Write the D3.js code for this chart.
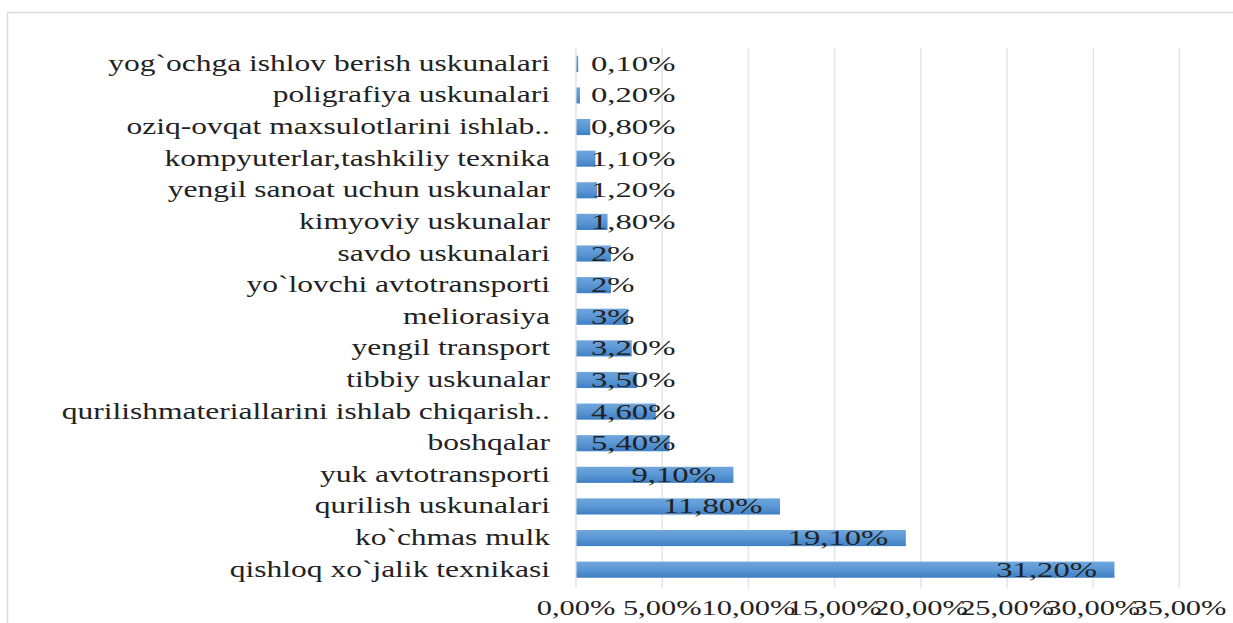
<!DOCTYPE html>
<html><head><meta charset="utf-8">
<script src="https://cdn.jsdelivr.net/npm/d3@7"></script>
<style>
html,body{margin:0;padding:0;background:#fff;}
svg{display:block;}
text{font-family:"Liberation Serif","Times New Roman",serif;fill:#222;}
</style></head>
<body>
<svg id="chart" width="1233" height="623"></svg>
<script>
const categories = [
  "yog`ochga ishlov berish uskunalari",
  "poligrafiya uskunalari",
  "oziq-ovqat maxsulotlarini ishlab..",
  "kompyuterlar,tashkiliy texnika",
  "yengil sanoat uchun uskunalar",
  "kimyoviy uskunalar",
  "savdo uskunalari",
  "yo`lovchi avtotransporti",
  "meliorasiya",
  "yengil transport",
  "tibbiy uskunalar",
  "qurilishmateriallarini ishlab chiqarish..",
  "boshqalar",
  "yuk avtotransporti",
  "qurilish uskunalari",
  "ko`chmas mulk",
  "qishloq xo`jalik texnikasi"
];
const values = [0.1, 0.2, 0.8, 1.1, 1.2, 1.8, 2, 2, 3, 3.2, 3.5, 4.6, 5.4, 9.1, 11.8, 19.1, 31.2];
const valueLabels = ["0,10%","0,20%","0,80%","1,10%","1,20%","1,80%","2%","2%","3%","3,20%","3,50%","4,60%","5,40%","9,10%","11,80%","19,10%","31,20%"];
const tickValues = [0, 5, 10, 15, 20, 25, 30, 35];
const tickLabels = ["0,00%","5,00%","10,00%","15,00%","20,00%","25,00%","30,00%","35,00%"];

const svg = d3.select("#chart");
const SX_CAT = 1.37, SX_VAL = 1.52, SX_TICK = 1.45;

const defs = svg.append("defs");
const grad = defs.append("linearGradient").attr("id","barGrad").attr("x1",0).attr("y1",0).attr("x2",0).attr("y2",1);
grad.append("stop").attr("offset","0%").attr("stop-color","#6fa6dc");
grad.append("stop").attr("offset","50%").attr("stop-color","#5a97d4");
grad.append("stop").attr("offset","100%").attr("stop-color","#3f7fc4");

// outer chart border
svg.append("rect").attr("x",7.5).attr("y",12.5).attr("width",1240).attr("height",640)
  .attr("fill","none").attr("stroke","#d9dde3").attr("stroke-width",1.5);

const x = d3.scaleLinear().domain([0,35]).range([576,1179.5]);
const y = d3.scaleBand().domain(categories).range([48,585.5]).paddingInner(0.49).paddingOuter(0.245);

// gridlines
svg.append("g").selectAll("line").data(tickValues).join("line")
  .attr("x1",d=>x(d)).attr("x2",d=>x(d)).attr("y1",48).attr("y2",588)
  .attr("stroke","#e3e5ee").attr("stroke-width",1.5);

// bars
svg.append("g").selectAll("rect").data(values).join("rect")
  .attr("x",x(0)+0.5).attr("y",(d,i)=>y(categories[i]))
  .attr("width",d=>Math.max(0,x(d)-x(0)))
  .attr("height",y.bandwidth())
  .attr("fill","url(#barGrad)");

// category labels
svg.append("g").selectAll("text").data(categories).join("text")
  .attr("text-anchor","end")
  .attr("font-size",23)
  .attr("transform",d=>`translate(550,${y(d)+y.bandwidth()/2+7}) scale(${SX_CAT},1)`)
  .text(d=>d);

// value labels
const vl = svg.append("g").selectAll("text").data(values).join("text")
  .attr("font-size",21.5)
  .text((d,i)=>valueLabels[i]);
vl.each(function(d,i){
  const w = this.getComputedTextLength()*SX_VAL;
  const endX = Math.max(x(d)-17, x(0)+15+w);
  const startX = endX - w;
  d3.select(this).attr("transform",`translate(${startX},${y(categories[i])+y.bandwidth()/2+7}) scale(${SX_VAL},1)`);
});

// tick labels
svg.append("g").selectAll("text").data(tickValues).join("text")
  .attr("text-anchor","middle")
  .attr("font-size",21)
  .attr("transform",(d)=>`translate(${x(d)},${615}) scale(${SX_TICK},1)`)
  .text((d,i)=>tickLabels[i]);
</script>
</body></html>
